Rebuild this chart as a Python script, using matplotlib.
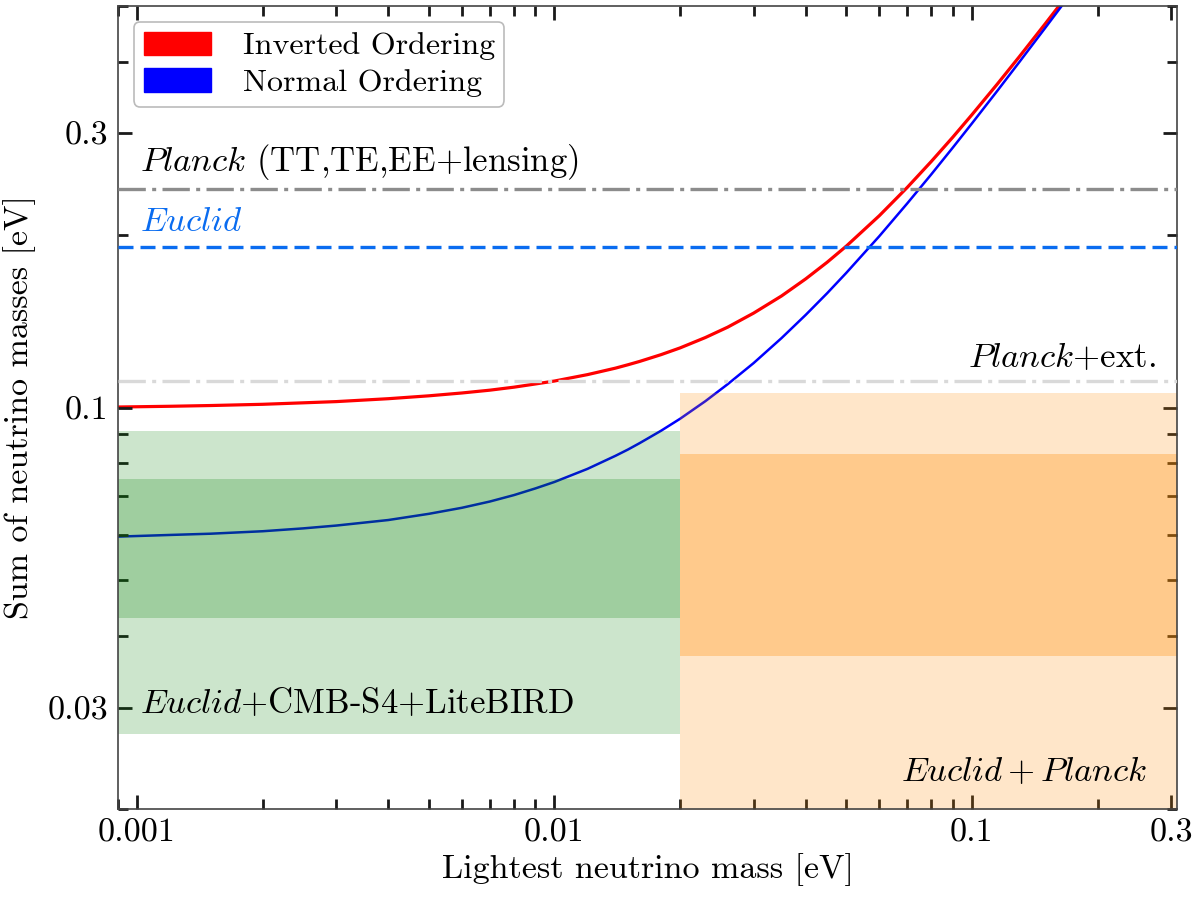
import matplotlib
matplotlib.use("Agg")
import matplotlib.pyplot as plt
from matplotlib.patches import Patch
from matplotlib.ticker import LogLocator, NullFormatter

plt.rcParams['font.family'] = ['cmr10', 'DejaVu Serif']
plt.rcParams['mathtext.fontset'] = 'cm'
plt.rcParams['axes.formatter.use_mathtext'] = True

# Lightest neutrino mass [eV]
m_light = [0.0009, 0.0012, 0.0015, 0.002, 0.0025, 0.003, 0.004, 0.005, 0.006,
           0.007, 0.008, 0.009, 0.01, 0.012, 0.014, 0.015, 0.016, 0.018, 0.02,
           0.023, 0.026, 0.03, 0.035, 0.04, 0.045, 0.05, 0.06, 0.07, 0.08,
           0.09, 0.1, 0.115, 0.13, 0.15, 0.17]
# Sum of masses, inverted ordering
sum_io = [0.1002, 0.1005, 0.1008, 0.1013, 0.1019, 0.1024, 0.1036, 0.1048, 0.1060,
          0.1072, 0.1085, 0.1099, 0.1112, 0.1141, 0.1171, 0.1187, 0.1203, 0.1236, 0.1270,
          0.1324, 0.1380, 0.1460, 0.1564, 0.1675, 0.1790, 0.1909, 0.2157, 0.2416, 0.2683,
          0.2955, 0.3233, 0.3655, 0.4083, 0.4660, 0.5242]
# Sum of masses, normal ordering
sum_no = [0.0596, 0.0600, 0.0603, 0.0609, 0.0616, 0.0623, 0.0637, 0.0653, 0.0669,
          0.0686, 0.0704, 0.0723, 0.0742, 0.0782, 0.0824, 0.0845, 0.0867, 0.0911, 0.0956,
          0.1026, 0.1098, 0.1195, 0.1321, 0.1450, 0.1581, 0.1715, 0.1987, 0.2266, 0.2548,
          0.2834, 0.3122, 0.3557, 0.3996, 0.4584, 0.5174]

# upper limits [eV]
planck_lim = 0.24
euclid_lim = 0.19
planck_ext_lim = 0.111

# forecast bands: (low, high)
split_mass = 0.02
s4_1sig = (0.043, 0.075)
s4_2sig = (0.027, 0.091)
ep_1sig = (0.037, 0.083)
ep_2sig = (0.014, 0.106)

xlim = (0.0009, 0.31)
ylim = (0.02, 0.5)

fig = plt.figure(figsize=(12, 9), dpi=100)
ax = fig.add_axes([0.0983, 0.1011, 0.8825, 0.8922])
ax.set_xscale('log')
ax.set_yscale('log')

ax.plot(m_light, sum_io, color='red', lw=2.3, zorder=1, solid_joinstyle='round')
ax.plot(m_light, sum_no, color='blue', lw=1.8, zorder=1, solid_joinstyle='round')

# bands
gx = [xlim[0], split_mass]
ox = [split_mass, xlim[1]]
ax.fill_between(gx, *s4_2sig, color='green', alpha=0.2, lw=0, zorder=2)
ax.fill_between(gx, *s4_1sig, color='green', alpha=0.22, lw=0, zorder=2)
ax.fill_between(ox, *ep_2sig, color='darkorange', alpha=0.21, lw=0, zorder=2)
ax.fill_between(ox, *ep_1sig, color='darkorange', alpha=0.3, lw=0, zorder=2)

# horizontal limits
ax.axhline(planck_lim, color='#8c8c8c', lw=2.4, dashes=(8.2, 1.9, 1.2, 1.9), zorder=3)
ax.axhline(euclid_lim, color='#0a6cf0', lw=2.4, dashes=(4.5, 2.1), zorder=3)
ax.axhline(planck_ext_lim, color='#d9d9d9', lw=2.4, dashes=(8.2, 1.9, 1.2, 1.9), zorder=3)

fs = 25
trans = ax.get_yaxis_transform()
ax.text(0.021, planck_lim * 1.03, r'$\mathit{Planck}$ (TT,TE,EE+lensing)',
        transform=trans, fontsize=fs, va='bottom', ha='left', zorder=5)
ax.text(0.021, euclid_lim * 1.04, r'$\mathit{Euclid}$', color='#0a6cf0',
        transform=trans, fontsize=fs, va='bottom', ha='left', zorder=5)
ax.text(0.98, planck_ext_lim * 1.03, r'$\mathit{Planck}$+ext.',
        transform=trans, fontsize=fs, va='bottom', ha='right', zorder=5)
ax.text(0.021, 0.0305, r'$\mathit{Euclid}$+CMB-S4+LiteBIRD',
        transform=trans, fontsize=fs, va='center', ha='left', zorder=5)
ax.text(0.972, 0.0232, r'$\mathit{Euclid}+\mathit{Planck}$',
        transform=trans, fontsize=fs, va='center', ha='right', zorder=5)

ax.set_xlim(*xlim)
ax.set_ylim(*ylim)

ax.set_xticks([0.001, 0.01, 0.1, 0.3])
ax.set_xticklabels(['0.001', '0.01', '0.1', '0.3'])
ax.set_yticks([0.03, 0.1, 0.3])
ax.set_yticklabels(['0.03', '0.1', '0.3'])
ax.xaxis.set_minor_locator(LogLocator(base=10, subs=range(2, 10), numticks=20))
ax.yaxis.set_minor_locator(LogLocator(base=10, subs=range(2, 10), numticks=20))
ax.xaxis.set_minor_formatter(NullFormatter())
ax.yaxis.set_minor_formatter(NullFormatter())
ax.tick_params(which='both', direction='in', top=True, right=True,
               labelsize=24.5, width=2, color='#1a1a1a')
ax.tick_params(which='major', length=10, pad=7)
ax.tick_params(which='minor', length=7)
for sp in ax.spines.values():
    sp.set_color('#444444')
    sp.set_linewidth(1.2)

ax.set_xlabel('Lightest neutrino mass [eV]', fontsize=24.5, labelpad=4)
ax.set_ylabel('Sum of neutrino masses [eV]', fontsize=24.5, labelpad=8)

handles = [Patch(color='red', label='Inverted Ordering'),
           Patch(color='blue', label='Normal Ordering')]
leg = ax.legend(handles=handles, loc='upper left', fontsize=23, frameon=True,
                handlelength=2.1, handleheight=0.75, handletextpad=1.0,
                borderaxespad=0.5, labelspacing=0.25, borderpad=0.3)
leg.get_frame().set_edgecolor('#aaaaaa')
leg.get_frame().set_linewidth(1.2)
leg.set_zorder(6)

fig.savefig('out.png', dpi=100)
